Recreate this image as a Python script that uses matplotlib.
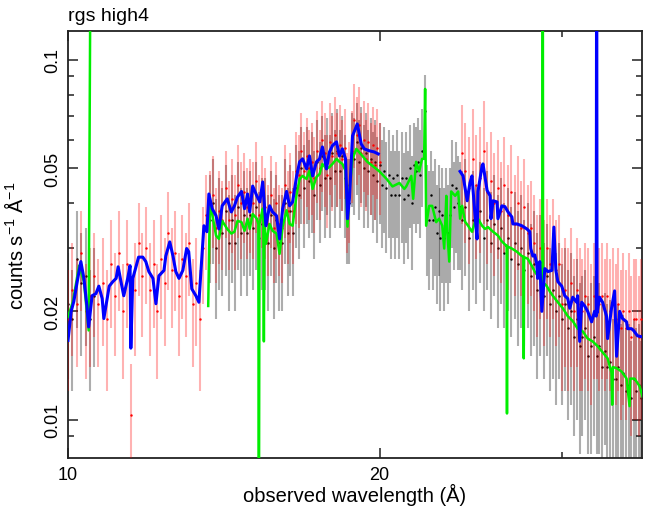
import numpy as np
import matplotlib
matplotlib.use("Agg")
import matplotlib.pyplot as plt
from matplotlib.ticker import FixedLocator, FixedFormatter, NullFormatter

plt.rcParams['font.family'] = ['Liberation Sans', 'DejaVu Sans']
plt.rcParams['mathtext.fontset'] = 'custom'
plt.rcParams['mathtext.rm'] = 'Liberation Sans'
plt.rcParams['mathtext.it'] = 'Liberation Sans'

# all fluxes / errors below in units of 1e-3 counts s^-1 A^-1
SCALE = 1e-3

# RGS2 data (red), first chip range 10-20 A
red_wave1 = [10.0, 10.1, 10.2, 10.3, 10.4, 10.5, 10.6, 10.7, 10.8, 10.9,
             11.0, 11.1, 11.2, 11.3, 11.4, 11.5, 11.6, 11.7, 11.8, 11.9,
             12.0, 12.1, 12.2, 12.3, 12.4, 12.5, 12.6, 12.7, 12.8, 12.9,
             13.0, 13.1, 13.2, 13.3, 13.4, 13.5, 13.6, 13.7, 13.8, 13.9,
             14.0, 14.1, 14.2, 14.3, 14.4, 14.5, 14.6, 14.7, 14.8, 14.9,
             15.0, 15.1, 15.2, 15.3, 15.4, 15.5, 15.6, 15.7, 15.8, 15.9,
             16.0, 16.1, 16.2, 16.3, 16.4, 16.5, 16.6, 16.7, 16.8, 16.9,
             17.0, 17.1, 17.2, 17.3, 17.4, 17.5, 17.6, 17.7, 17.8, 17.9,
             18.0, 18.1, 18.2, 18.3, 18.4, 18.5, 18.6, 18.7, 18.8, 18.9,
             19.0, 19.1, 19.2, 19.3, 19.4, 19.5, 19.6, 19.7, 19.8, 19.9,
             20.0]
red_flux1 = [19, 23, 21, 29, 20, 22, 25, 21, 24, 19,
             27, 22, 29, 20, 27, 10.3, 23, 31, 25, 30,
             23, 27, 20, 28, 24, 33, 26, 29, 22, 28,
             25, 31, 21, 24, 19, 30, 37, 38, 42, 34,
             38, 36, 44, 36, 41, 37, 45, 40, 43, 39,
             41, 40, 46, 37, 42, 39, 35, 42, 34, 40,
             35, 34, 45, 38, 43, 38, 49, 48, 56, 49,
             54, 50, 52, 47, 56, 50, 60, 55, 48, 59,
             54, 62, 55, 58, 53, 57, 42, 45, 56, 68,
             62, 66, 55, 60, 53, 59, 52, 58, 51, 57,
             52]
red_err1 = [7, 8, 7, 9, 7, 8, 8, 7, 8, 7,
            9, 7, 9, 7, 9, 4, 8, 9, 8, 9,
            8, 9, 7, 9, 8, 10, 8, 9, 7, 9,
            8, 9, 7, 8, 7, 9, 11, 11, 12, 10,
            11, 10, 12, 10, 12, 11, 13, 12, 12, 11,
            12, 12, 13, 11, 12, 11, 10, 12, 10, 12,
            10, 10, 13, 11, 12, 11, 14, 14, 15, 14,
            15, 14, 15, 14, 16, 14, 17, 16, 14, 17,
            16, 17, 16, 17, 15, 16, 13, 14, 16, 18,
            17, 18, 16, 17, 15, 17, 15, 16, 15, 16,
            15]

# RGS2 data (red), 24-36 A
red_wave2 = [24.0, 24.2, 24.4, 24.6, 24.8, 25.0, 25.2, 25.4, 25.6, 25.8,
             26.0, 26.2, 26.4, 26.6, 26.8, 27.0, 27.2, 27.4, 27.6, 27.8,
             28.0, 28.2, 28.4, 28.6, 28.8, 29.0, 29.2, 29.4, 29.6, 29.8,
             30.0, 30.2, 30.4, 30.6, 30.8, 31.0, 31.2, 31.4, 31.6, 31.8,
             32.0, 32.2, 32.4, 32.6, 32.8, 33.0, 33.2, 33.4, 33.6, 33.8,
             34.0, 34.2, 34.4, 34.6, 34.8, 35.0, 35.2, 35.4, 35.6, 35.8]
red_flux2 = [55, 49, 44, 53, 45, 47, 56, 43, 46, 40,
             44, 38, 45, 37, 43, 35, 40, 34, 39, 33,
             34, 31, 27, 30, 26, 30, 27, 30, 26, 27,
             21, 23, 21, 24, 20, 23, 21, 20, 22, 21,
             19, 22, 22, 21, 22, 20, 22, 20, 21, 19,
             21, 18, 20, 18, 20, 17, 19, 19, 17, 19]
red_err2 = [20, 18, 17, 20, 17, 18, 21, 16, 17, 15,
            16, 14, 16, 14, 15, 13, 14, 12, 14, 12,
            12, 11, 10, 11, 10, 11, 10, 11, 10, 10,
            9, 9, 9, 10, 8, 9, 9, 8, 9, 9,
            8, 9, 9, 9, 9, 8, 9, 8, 9, 8,
            9, 8, 9, 8, 9, 8, 9, 9, 8, 9]

# RGS1 data (black)
black_wave1 = [10.0, 10.1, 10.2, 10.3, 10.4, 10.5, 10.6]
black_flux1 = [21, 19, 28, 24, 25, 19, 22]
black_err1 = [8, 7, 10, 9, 9, 7, 8]

black_wave2 = [13.7, 13.8, 13.9,
               14.0, 14.1, 14.2, 14.3, 14.4, 14.5, 14.6, 14.7, 14.8, 14.9,
               15.0, 15.1, 15.2, 15.3, 15.4, 15.5, 15.6, 15.7, 15.8, 15.9,
               16.0, 16.1, 16.2, 16.3, 16.4, 16.5, 16.6, 16.7, 16.8, 16.9,
               17.0, 17.1, 17.2, 17.3, 17.4, 17.5, 17.6, 17.7, 17.8, 17.9,
               18.0, 18.1, 18.2, 18.3, 18.4, 18.5, 18.6, 18.7, 18.8, 18.9,
               19.0, 19.1, 19.2, 19.3, 19.4, 19.5, 19.6, 19.7, 19.8, 19.9,
               20.0, 20.1, 20.2, 20.3, 20.4, 20.5, 20.6, 20.7, 20.8, 20.9,
               21.0, 21.1, 21.2, 21.3, 21.4, 21.5, 21.6, 21.7, 21.8, 21.9,
               22.0, 22.1, 22.2, 22.3, 22.4, 22.5, 22.6, 22.7, 22.8, 22.9,
               23.0, 23.1, 23.2, 23.3, 23.4, 23.5, 23.6, 23.7, 23.8, 23.9,
               24.0,
               24.2, 24.4, 24.6, 24.8, 25.0, 25.2, 25.4, 25.6, 25.8, 26.0,
               26.2, 26.4, 26.6, 26.8, 27.0, 27.2, 27.4, 27.6, 27.8, 28.0,
               28.2, 28.4, 28.6, 28.8, 29.0, 29.2, 29.4, 29.6, 29.8, 30.0,
               30.2, 30.4, 30.6, 30.8, 31.0, 31.2, 31.4, 31.6, 31.8, 32.0,
               32.2, 32.4, 32.6, 32.8, 33.0, 33.2, 33.4, 33.6, 33.8, 34.0,
               34.2, 34.4, 34.6, 34.8, 35.0, 35.2, 35.4, 35.6, 35.8]
black_flux2 = [36, 40, 30,
               35, 33, 38, 31, 36, 31, 39, 33, 37, 33,
               37, 34, 39, 32, 35, 35, 31, 37, 30, 36,
               31, 31, 40, 33, 38, 33, 44, 42, 50, 44,
               50, 46, 48, 42, 52, 45, 54, 47, 53, 47,
               55, 49, 56, 49, 54, 47, 40, 40, 55, 53,
               59, 52, 57, 50, 55, 49, 53, 48, 52, 46,
               51, 45, 49, 44, 48, 42, 47, 42, 48, 42,
               47, 41, 47, 42, 50, 40, 51, 49, 52, 48,
               56, 72, 38, 36, 42, 36, 39, 33, 38, 32,
               37, 32, 37, 33, 37, 45, 39, 44, 40, 39,
               36,
               39, 32, 36, 33, 38, 32, 36, 31, 35, 30,
               34, 29, 32, 28, 31, 27, 30, 26, 29, 25,
               27, 23, 26, 22, 25, 21, 23, 20, 22, 19,
               21, 18, 20, 17, 19, 16, 17, 18, 15, 16,
               17, 15, 16, 14, 15.5, 14, 14.5, 13, 13, 14,
               12.5, 13.5, 12, 12.5, 11.5, 13, 12, 12.5, 11.5]
black_err2 = [12, 13, 11,
              12, 11, 13, 11, 12, 11, 13, 11, 12, 11,
              12, 11, 13, 11, 12, 12, 11, 12, 11, 12,
              11, 11, 13, 11, 13, 11, 14, 14, 15, 14,
              15, 14, 15, 14, 16, 14, 16, 15, 16, 15,
              16, 15, 17, 15, 16, 15, 13, 13, 16, 16,
              17, 16, 17, 16, 16, 15, 16, 15, 16, 15,
              16, 15, 16, 15, 16, 14, 15, 14, 16, 14,
              16, 14, 16, 14, 16, 14, 16, 16, 17, 16,
              17, 19, 13, 13, 14, 13, 14, 12, 13, 12,
              13, 12, 13, 12, 13, 15, 13, 15, 14, 13,
              13,
              14, 12, 13, 12, 14, 12, 13, 12, 13, 12,
              13, 11, 12, 11, 12, 11, 12, 10, 11, 10,
              11, 10, 11, 9, 10, 9, 10, 9, 9, 8,
              9, 8, 9, 8, 9, 8, 8, 8, 7, 8,
              8, 7, 8, 7, 7, 7, 7, 6, 6, 7,
              6, 6, 6, 6, 5, 6, 6, 6, 5]

# RGS2 model (blue)
blue_wave1 = [10.00, 10.07, 10.13, 10.22, 10.29, 10.36, 10.43, 10.47, 10.55, 10.64,
              10.71, 10.79, 10.83, 10.91, 10.96, 11.05, 11.13, 11.18, 11.25, 11.32,
              11.42, 11.48, 11.50, 11.55, 11.62, 11.70, 11.81, 11.89, 11.97, 12.08,
              12.16, 12.24, 12.38, 12.43, 12.54, 12.63, 12.71, 12.80, 12.91, 13.02,
              13.08, 13.17, 13.29, 13.38, 13.44, 13.53, 13.62, 13.68, 13.78, 13.90,
              13.99, 14.09, 14.25, 14.38, 14.48, 14.58, 14.71, 14.81, 14.91, 14.98,
              15.08, 15.22, 15.32, 15.42, 15.53, 15.66, 15.76, 15.90, 16.01, 16.12,
              16.26, 16.37, 16.48, 16.63, 16.74, 16.85, 17.00, 17.11, 17.23, 17.38,
              17.50, 17.61, 17.77, 17.89, 18.01, 18.17, 18.29, 18.41, 18.54, 18.62,
              18.70, 18.83, 19.03, 19.20, 19.33, 19.55, 19.76, 19.94]
blue_flux1 = [16.6, 20.0, 21.3, 24.7, 27.5, 24.7, 20.7, 18.1, 22.1, 22.4,
              23.5, 21.7, 19.1, 21.7, 23.5, 24.2, 24.7, 26.6, 24.2, 22.1,
              24.7, 26.8, 15.8, 24.7, 26.3, 28.3, 28.3, 27.5, 25.8, 24.7,
              21.0, 25.1, 26.0, 28.5, 31.2, 28.5, 25.8, 24.7, 26.0, 29.9,
              29.3, 23.1, 22.1, 21.2, 25.8, 34.6, 33.3, 42.4, 38.6, 36.9,
              33.9, 39.3, 41.1, 37.8, 39.3, 41.6, 43.1, 38.6, 42.4, 37.8,
              44.6, 41.9, 40.3, 45.8, 34.6, 39.3, 37.8, 36.9, 31.8, 38.6,
              43.1, 39.3, 40.3, 47.6, 52.1, 53.1, 49.8, 54.1, 47.6, 52.1,
              53.1, 57.3, 49.8, 55.5, 57.8, 59.2, 54.1, 56.6, 53.1, 36.2,
              41.1, 61.5, 66.4, 58.4, 56.6, 55.9, 55.5, 54.8]

blue_wave2 = [23.92, 24.08, 24.30, 24.45, 24.56, 24.73, 24.84, 24.89, 25.12, 25.17,
              25.40, 25.57, 25.62, 25.74, 25.97, 26.02, 26.25, 26.43, 26.61, 26.84,
              26.90, 27.14, 27.44, 27.75, 27.93, 27.99, 28.12, 28.24, 28.37, 28.43,
              28.56, 28.69, 28.88, 29.08, 29.34, 29.47, 29.60, 29.73, 29.99, 30.19,
              30.39, 30.53, 30.73, 31.00, 31.07, 31.21, 31.35, 31.56, 31.77, 32.05,
              32.26, 32.38, 32.41, 32.44, 32.62, 32.84, 33.13, 33.21, 33.50, 33.73,
              33.88, 34.11, 34.33, 34.64, 34.72, 35.02, 35.18, 35.49, 35.81]
blue_flux2 = [49.0, 47.6, 40.6, 45.5, 47.6, 36.9, 31.8, 43.1, 50.8, 51.4,
              43.4, 41.9, 36.2, 40.6, 40.3, 36.2, 39.3, 39.1, 37.8, 36.6,
              35.0, 35.0, 34.6, 33.9, 33.3, 29.9, 28.5, 28.7, 27.1, 24.7,
              27.5, 20.0, 26.3, 25.8, 26.0, 34.3, 26.0, 24.2, 23.5, 22.1,
              21.7, 20.4, 21.9, 21.2, 22.1, 16.5, 21.2, 20.7, 20.0, 18.7,
              20.0, 19.4, 300.0, 19.8, 21.9, 21.2, 19.4, 16.8, 20.4, 22.8,
              15.0, 20.0, 19.1, 18.7, 17.9, 17.9, 17.7, 17.1, 17.0]

# RGS1 model (green)
green_wave1 = [10.00, 10.11, 10.25, 10.36, 10.47, 10.52]
green_flux1 = [19.3, 21.3, 26.8, 24.2, 17.7, 300.0]

green_wave2 = [13.66, 13.71, 13.78, 13.90, 13.99, 14.09, 14.25, 14.38, 14.48, 14.58,
               14.71, 14.81, 14.91, 14.98, 15.08, 15.22, 15.27, 15.29, 15.31, 15.42,
               15.44, 15.46, 15.48, 15.53, 15.66, 15.76, 15.90, 16.01, 16.12, 16.26,
               16.37, 16.48, 16.63, 16.74, 16.85, 17.00, 17.11, 17.23, 17.38, 17.50,
               17.61, 17.77, 17.89, 18.01, 18.17, 18.29, 18.41, 18.54, 18.62, 18.70,
               18.83, 18.99, 19.25, 19.46, 19.68, 19.99, 20.31, 20.58, 20.90, 21.13,
               21.22, 21.46, 21.55, 21.69, 21.84, 21.98, 22.08, 22.13, 22.18, 22.33,
               22.48, 22.68, 22.83, 22.99, 23.09, 23.20, 23.25, 23.35, 23.45, 23.66,
               23.82, 23.92, 24.03, 24.19, 24.35, 24.56, 24.73, 24.89, 25.12, 25.28,
               25.45, 25.74, 26.02, 26.25, 26.49, 26.53, 26.55, 26.57, 26.84, 27.14,
               27.44, 27.54, 27.56, 27.58, 27.81, 28.05, 28.24, 28.43, 28.73, 28.75,
               28.77, 29.01, 29.21, 29.40, 29.73, 30.06, 30.39, 30.73, 31.07, 31.42,
               31.77, 32.12, 32.48, 32.84, 33.21, 33.50, 33.55, 33.60, 33.88, 34.26,
               34.64, 34.87, 34.92, 35.26, 35.65, 35.89]
green_flux2 = [20.7, 39.8, 37.3, 32.5, 31.8, 35.7, 33.9, 32.9, 33.3, 35.7,
               35.4, 33.5, 36.2, 33.9, 37.3, 36.2, 35.0, 4.0, 35.0, 38.6,
               38.0, 16.5, 36.0, 30.8, 35.0, 33.5, 32.9, 28.9, 34.4, 38.2,
               35.0, 34.6, 42.4, 46.7, 47.6, 46.7, 49.2, 43.8, 47.3, 48.2,
               51.4, 49.8, 50.4, 51.4, 53.1, 52.1, 51.4, 49.2, 34.4, 43.1,
               53.1, 56.6, 54.1, 52.1, 50.8, 49.0, 46.7, 44.5, 45.5, 43.8,
               44.5, 47.6, 41.1, 52.1, 49.0, 53.1, 53.1, 83.1, 34.6, 39.3,
               39.3, 35.4, 36.2, 34.6, 29.9, 41.9, 33.3, 27.5, 43.1, 41.9,
               43.1, 36.2, 39.3, 35.5, 34.6, 33.3, 35.5, 36.2, 34.6, 33.9,
               34.3, 33.3, 32.5, 31.3, 30.5, 30.5, 10.4, 30.3, 29.9, 29.3,
               28.5, 28.4, 14.8, 28.3, 28.0, 26.8, 25.8, 25.1, 24.3, 300.0,
               24.1, 23.5, 22.7, 22.1, 21.2, 20.4, 19.4, 18.8, 17.9, 17.6,
               16.8, 16.5, 16.0, 15.4, 14.8, 13.5, 11.0, 14.0, 13.9, 13.6,
               13.0, 10.9, 13.0, 13.0, 12.4, 11.6]

W, H = 646, 510
fig = plt.figure(figsize=(W / 100, H / 100), dpi=100)
ax = fig.add_axes([68 / W, 1 - 459 / H, (642 - 68) / W, (459 - 32) / H])
ax.set_xscale('log')
ax.set_yscale('log')

# data: black (RGS1) under red (RGS2)
for wv, fl, er in [(black_wave1, black_flux1, black_err1),
                   (black_wave2, black_flux2, black_err2)]:
    ax.errorbar(wv, np.array(fl) * SCALE, yerr=np.array(er) * SCALE,
                fmt='.', ms=1.5, color='black', ecolor=(0, 0, 0, 0.32),
                elinewidth=1.5, capsize=0, zorder=2)
for wv, fl, er in [(red_wave1, red_flux1, red_err1),
                   (red_wave2, red_flux2, red_err2)]:
    ax.errorbar(wv, np.array(fl) * SCALE, yerr=np.array(er) * SCALE,
                fmt='.', ms=1.5, color='red', ecolor=(1, 0, 0, 0.3),
                elinewidth=1.5, capsize=0, zorder=3)

# models
for wv, fl in [(green_wave1, green_flux1), (green_wave2, green_flux2)]:
    ax.plot(wv, np.array(fl) * SCALE, color='#00ee00', lw=1.8, zorder=4)
for wv, fl in [(blue_wave1, blue_flux1), (blue_wave2, blue_flux2)]:
    ax.plot(wv, np.array(fl) * SCALE, color='#0000ff', lw=2.2, zorder=5)

ax.set_xlim(10, 35.85)
ax.set_ylim(0.00782, 0.1204)

ax.xaxis.set_major_locator(FixedLocator([10, 20]))
ax.xaxis.set_major_formatter(FixedFormatter(['10', '20']))
ax.xaxis.set_minor_locator(FixedLocator([30]))
ax.xaxis.set_minor_formatter(NullFormatter())
ax.yaxis.set_major_locator(FixedLocator([0.01, 0.02, 0.05, 0.1]))
ax.yaxis.set_major_formatter(FixedFormatter(['0.01', '0.02', '0.05', '0.1']))
ax.yaxis.set_minor_locator(FixedLocator([0.009, 0.03, 0.04, 0.06, 0.07, 0.08, 0.09]))
ax.yaxis.set_minor_formatter(NullFormatter())

ax.tick_params(which='both', direction='in', top=True, right=True,
               colors='#222222', labelcolor='black', labelsize=13)
ax.tick_params(which='major', length=7, width=1.1)
ax.tick_params(which='minor', length=4.5, width=1.1)
ax.tick_params(axis='x', pad=6)
ax.tick_params(axis='y', pad=5, labelrotation=90)
for lab in ax.get_yticklabels():
    lab.set_va('center')
for sp in ax.spines.values():
    sp.set_linewidth(1.3)
    sp.set_color('#222222')

ax.set_xlabel('observed wavelength (Å)', fontsize=14.5, labelpad=0)
ax.set_ylabel(r'counts s$^{-1}$ Å$^{-1}$', fontsize=14.5, labelpad=12)
ax.set_title('rgs high4', loc='left', fontsize=14, pad=8)

fig.savefig('out.png', dpi=100)
